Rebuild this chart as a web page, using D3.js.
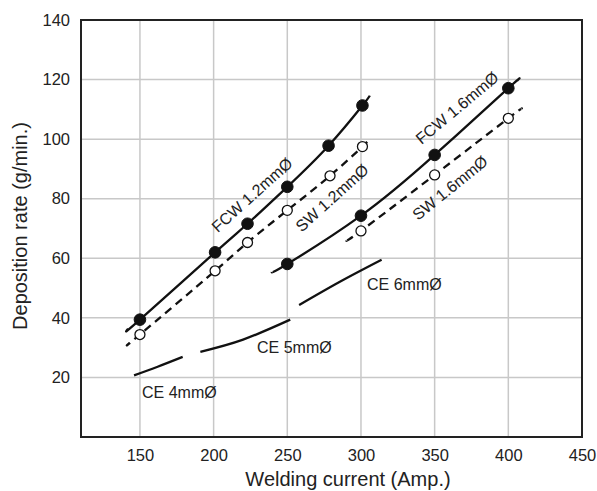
<!DOCTYPE html>
<html>
<head>
<meta charset="utf-8">
<script src="https://cdn.jsdelivr.net/npm/d3@7/dist/d3.min.js"></script>
<style>
  html, body { margin: 0; padding: 0; background: #fff; }
  svg { display: block; font-family: "Liberation Sans", Arial, Helvetica, sans-serif; }
</style>
</head>
<body>
<svg id="chart" width="597" height="491"></svg>
<script>
// Axis ticks
const xTicks = [150, 200, 250, 300, 350, 400, 450];
const yTicks = [20, 40, 60, 80, 100, 120, 140];

// Flux-cored wire 1.2 mm: measured points and curve ends
const fcw12Current = [150, 201, 223, 250, 278, 301];
const fcw12Rate    = [39.4, 62.0, 71.6, 84.0, 97.8, 111.3];
const fcw12Ends    = [[142, 36.3], [306, 114.6]];

// Solid wire 1.2 mm
const sw12Current = [150, 201, 223, 250, 279, 301];
const sw12Rate    = [34.4, 55.8, 65.3, 76.1, 87.7, 97.5];
const sw12Ends    = [[143, 31.6], [304.5, 99.4]];

// Flux-cored wire 1.6 mm
const fcw16Current = [250, 300, 350, 400];
const fcw16Rate    = [58.1, 74.3, 94.7, 117.1];
const fcw16Ends    = [[239.5, 55.4], [406, 119.6]];

// Solid wire 1.6 mm
const sw16Current = [300, 350, 400];
const sw16Rate    = [69.2, 88.0, 107.0];
const sw16Ends    = [[290, 66.0], [409, 110.2]];

// Covered electrodes (curves only)
const ce4 = [[146, 20.7], [162, 23.6], [179, 26.9]];
const ce5 = [[191, 28.6], [220, 32.7], [252, 39.4]];
const ce6 = [[258, 44.3], [286, 52.2], [314, 59.5]];

const svg = d3.select("#chart");
const x = d3.scaleLinear().domain([110, 450]).range([81, 582]);
const y = d3.scaleLinear().domain([0, 140]).range([437, 20]);

// Grid
const grid = svg.append("g");
grid.selectAll("line.v").data(xTicks.filter(t => t < 450)).join("line")
  .attr("x1", d => x(d)).attr("x2", d => x(d))
  .attr("y1", y(0)).attr("y2", y(140))
  .attr("stroke", "#c8c8c8").attr("stroke-width", 1.5);
grid.selectAll("line.h").data(yTicks.filter(t => t < 140)).join("line")
  .attr("x1", x(110)).attr("x2", x(450))
  .attr("y1", d => y(d)).attr("y2", d => y(d))
  .attr("stroke", "#c8c8c8").attr("stroke-width", 1.5);

// Frame
svg.append("rect")
  .attr("x", x(110)).attr("y", y(140))
  .attr("width", x(450) - x(110)).attr("height", y(0) - y(140))
  .attr("fill", "none").attr("stroke", "#222").attr("stroke-width", 2);

// Tick labels via axes without lines
const xAxis = svg.append("g")
  .attr("transform", `translate(0,${y(0)})`)
  .call(d3.axisBottom(x).tickValues(xTicks).tickSize(0).tickPadding(12));
const yAxis = svg.append("g")
  .attr("transform", `translate(${x(110)},0)`)
  .call(d3.axisLeft(y).tickValues(yTicks).tickSize(0).tickPadding(11));
[xAxis, yAxis].forEach(a => {
  a.select(".domain").remove();
  a.selectAll("text")
    .attr("font-size", 16.5)
    .attr("fill", "#222")
    .attr("font-family", "'Liberation Sans', Arial, sans-serif");
});

// Axis titles
svg.append("text")
  .attr("x", 348).attr("y", 486)
  .attr("text-anchor", "middle")
  .attr("font-size", 20).attr("fill", "#222")
  .text("Welding current (Amp.)");
svg.append("text")
  .attr("transform", "translate(27,226) rotate(-90)")
  .attr("text-anchor", "middle")
  .attr("font-size", 20).attr("fill", "#222")
  .text("Deposition rate (g/min.)");

const line = d3.line().x(d => x(d[0])).y(d => y(d[1])).curve(d3.curveNatural);
const zip = (a, b) => a.map((v, i) => [v, b[i]]);

function series(cur, rate, ends, dashed, filled) {
  const pts = zip(cur, rate);
  svg.append("path")
    .attr("d", line([ends[0], ...pts, ends[1]]))
    .attr("fill", "none").attr("stroke", "#111").attr("stroke-width", 2.3)
    .attr("stroke-dasharray", dashed ? "8,5.5" : null);
  svg.append("g").selectAll("circle").data(pts).join("circle")
    .attr("cx", d => x(d[0])).attr("cy", d => y(d[1]))
    .attr("r", filled ? 5.8 : 5)
    .attr("fill", filled ? "#111" : "#fff")
    .attr("stroke", "#111").attr("stroke-width", filled ? 1 : 1.3);
}

[ce4, ce5, ce6].forEach(c => {
  svg.append("path").attr("d", line(c))
    .attr("fill", "none").attr("stroke", "#111").attr("stroke-width", 2.3);
});

series(sw12Current, sw12Rate, sw12Ends, true, false);
series(fcw12Current, fcw12Rate, fcw12Ends, false, true);
series(sw16Current, sw16Rate, sw16Ends, true, false);
series(fcw16Current, fcw16Rate, fcw16Ends, false, true);

// Curve labels
const rotLabels = [
  { t: "FCW 1.2mmØ", cx: 252, cy: 195, a: -42 },
  { t: "SW 1.2mmØ",  cx: 332, cy: 198, a: -42 },
  { t: "FCW 1.6mmØ", cx: 457, cy: 108, a: -40 },
  { t: "SW 1.6mmØ",  cx: 450, cy: 188, a: -39 }
];
svg.append("g").selectAll("text").data(rotLabels).join("text")
  .attr("transform", d => `translate(${d.cx},${d.cy}) rotate(${d.a})`)
  .attr("text-anchor", "middle").attr("dominant-baseline", "central")
  .attr("font-size", 16).attr("fill", "#222")
  .text(d => d.t);

const flatLabels = [
  { t: "CE 6mmØ", x: 367, y: 290 },
  { t: "CE 5mmØ", x: 257, y: 352.5 },
  { t: "CE 4mmØ", x: 142, y: 397.5 }
];
svg.append("g").selectAll("text").data(flatLabels).join("text")
  .attr("x", d => d.x).attr("y", d => d.y)
  .attr("font-size", 16).attr("fill", "#222")
  .text(d => d.t);
</script>
</body>
</html>
